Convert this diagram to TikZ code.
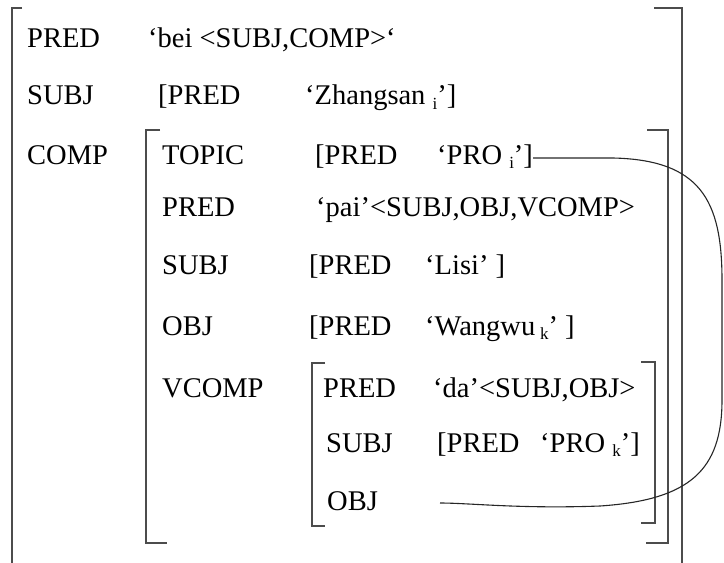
\documentclass[tikz,border=0pt]{standalone}
\usepackage{fontspec}
\setmainfont{Liberation Serif}
\newcommand{\sbs}[1]{\raisebox{-0.35ex}{\fontsize{17}{17}\selectfont #1}}
\begin{document}
\begin{tikzpicture}[x=1pt,y=-1pt,
  lbl/.style={anchor=base west, inner sep=0pt, font=\fontsize{28.5}{34}\selectfont},
  brk/.style={draw=black!70, line width=1.4pt},
  link/.style={draw=black!85, line width=1.1pt}]
\useasboundingbox (0,0) rectangle (724,563);
% outer bracket
\draw[brk] (22,8) -- (12,8) -- (12,563);
\draw[brk] (654,8) -- (682,8) -- (682,563);
% COMP bracket
\draw[brk] (160,130) -- (146,130) -- (146,543) -- (167,543);
\draw[brk] (647,130) -- (668,130) -- (668,543) -- (646,543);
% VCOMP bracket
\draw[brk] (325,363) -- (312,363) -- (312,526) -- (325,526);
\draw[brk] (641,362) -- (655,362) -- (655,523) -- (641,523);
% texts
\node[lbl] (pred1) at (27,47.5) {PRED};
\node[lbl] (pred1v) at (148,47.5) {‘bei <SUBJ,COMP>‘};
\node[lbl] (subj1) at (27,104.5) {SUBJ};
\node[lbl] (subj1p) at (158,104.5) {[PRED};
\node[lbl] (subj1v) at (305,104.5) {‘Zhangsan \sbs{i}’]};
\node[lbl] (comp) at (27,164) {COMP};
\node[lbl] (topic) at (162,164) {TOPIC};
\node[lbl] (topicp) at (315,164) {[PRED};
\node[lbl] (topicv) at (437,164) {‘PRO \sbs{i}’]};
\node[lbl] (pred2) at (162,216) {PRED};
\node[lbl] (pred2v) at (316,216) {‘pai’<SUBJ,OBJ,VCOMP>};
\node[lbl] (subj2) at (162,274) {SUBJ};
\node[lbl] (subj2p) at (309,274) {[PRED};
\node[lbl] (subj2v) at (425,274) {‘Lisi’ ]};
\node[lbl] (obj2) at (162,335) {OBJ};
\node[lbl] (obj2p) at (309,335) {[PRED};
\node[lbl] (obj2v) at (425,335) {‘Wangwu\,\sbs{k}’ ]};
\node[lbl] (vcomp) at (162,397) {VCOMP};
\node[lbl] (pred3) at (323,397) {PRED};
\node[lbl] (pred3v) at (433,397) {‘da’<SUBJ,OBJ>};
\node[lbl] (subj3) at (326,452) {SUBJ};
\node[lbl] (subj3p) at (437,452) {[PRED};
\node[lbl] (subj3v) at (540,452) {‘PRO \sbs{k}’]};
\node[lbl] (obj3) at (327,510) {OBJ};
% link
\coordinate (objend) at (440,503);
\draw[link] ([yshift=6pt]topicv.base east) -- ++(80,0)
  .. controls (700,160) and (722,200) .. (722,280) -- (722,400)
  .. controls (722,470) and (690,500) .. (600,506)
  .. controls (520,509) and (470,503) .. (objend);
\end{tikzpicture}
\end{document}
